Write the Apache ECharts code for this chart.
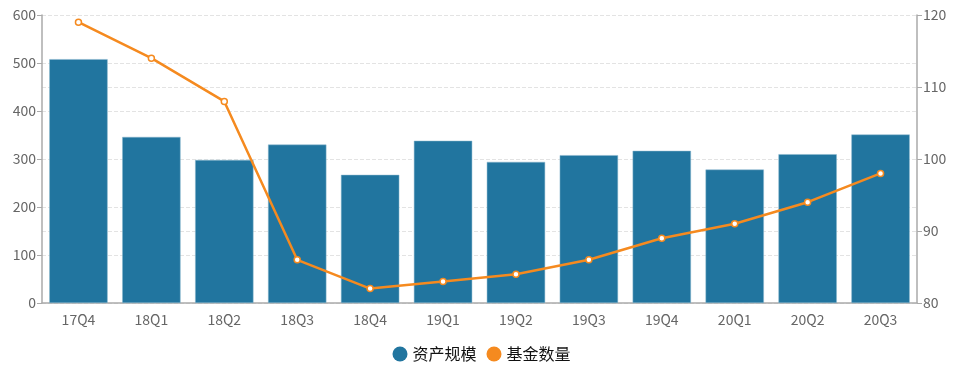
<!DOCTYPE html>
<html><head><meta charset="utf-8">
<script src="https://cdn.jsdelivr.net/npm/echarts@6/dist/echarts.min.js"></script>
<style>html,body{margin:0;padding:0;background:#fff}#c{width:963px;height:368px}</style>
</head><body><div id="c"></div>
<script>
const categories = ['17Q4','18Q1','18Q2','18Q3','18Q4','19Q1','19Q2','19Q3','19Q4','20Q1','20Q2','20Q3'];
const assetScale = [508, 346, 298, 330, 267, 338, 294, 308, 317, 278, 310, 351];
const fundCount = [119, 114, 108, 86, 82, 83, 84, 86, 89, 91, 94, 98];
const seriesNames = ['资产规模', '基金数量'];
const colors = ['#21759f', '#f58a1f'];

const chart = echarts.init(document.getElementById('c'));
const font = '"Noto Sans CJK SC", "Microsoft YaHei", sans-serif';
chart.setOption({
  animation: false,
  textStyle: { fontFamily: font },
  grid: { left: 42, right: 46, top: 15, bottom: 65 },
  legend: {
    bottom: 1, itemGap: 10, icon: 'circle', itemWidth: 15, itemHeight: 15,
    textStyle: { fontSize: 16, color: '#111', fontFamily: font },
    data: seriesNames.map((n, i) => ({ name: n, itemStyle: { color: colors[i], borderWidth: 0 } }))
  },
  xAxis: {
    type: 'category', data: categories,
    axisLine: { lineStyle: { color: '#aaa', width: 1.5 } },
    axisTick: { lineStyle: { color: '#aaa' } },
    axisLabel: { color: '#666', fontSize: 14, margin: 10 }
  },
  yAxis: [
    { type: 'value', min: 0, max: 600, interval: 100,
      axisLine: { show: true, lineStyle: { color: '#aaa', width: 1.5 } },
      axisTick: { show: true, lineStyle: { color: '#aaa' } },
      axisLabel: { color: '#666', fontSize: 14, margin: 6 },
      splitLine: { lineStyle: { type: 'dashed', color: '#e3e3e3' } } },
    { type: 'value', min: 80, max: 120, interval: 10,
      axisLine: { show: true, lineStyle: { color: '#aaa', width: 1.5 } },
      axisTick: { show: true, lineStyle: { color: '#aaa' } },
      axisLabel: { color: '#666', fontSize: 14, margin: 6 },
      splitLine: { lineStyle: { type: 'dashed', color: '#e3e3e3' } } }
  ],
  series: [
    { name: seriesNames[0], type: 'bar', data: assetScale, barWidth: '80%',
      itemStyle: { color: colors[0], borderColor: '#8cb8cf', borderWidth: 0.5 } },
    { name: seriesNames[1], type: 'line', yAxisIndex: 1, data: fundCount,
      symbol: 'circle', symbolSize: 6,
      lineStyle: { color: colors[1], width: 2.5 },
      itemStyle: { color: '#fff', borderColor: colors[1], borderWidth: 1.5 } }
  ],
  color: colors
});
</script></body></html>
